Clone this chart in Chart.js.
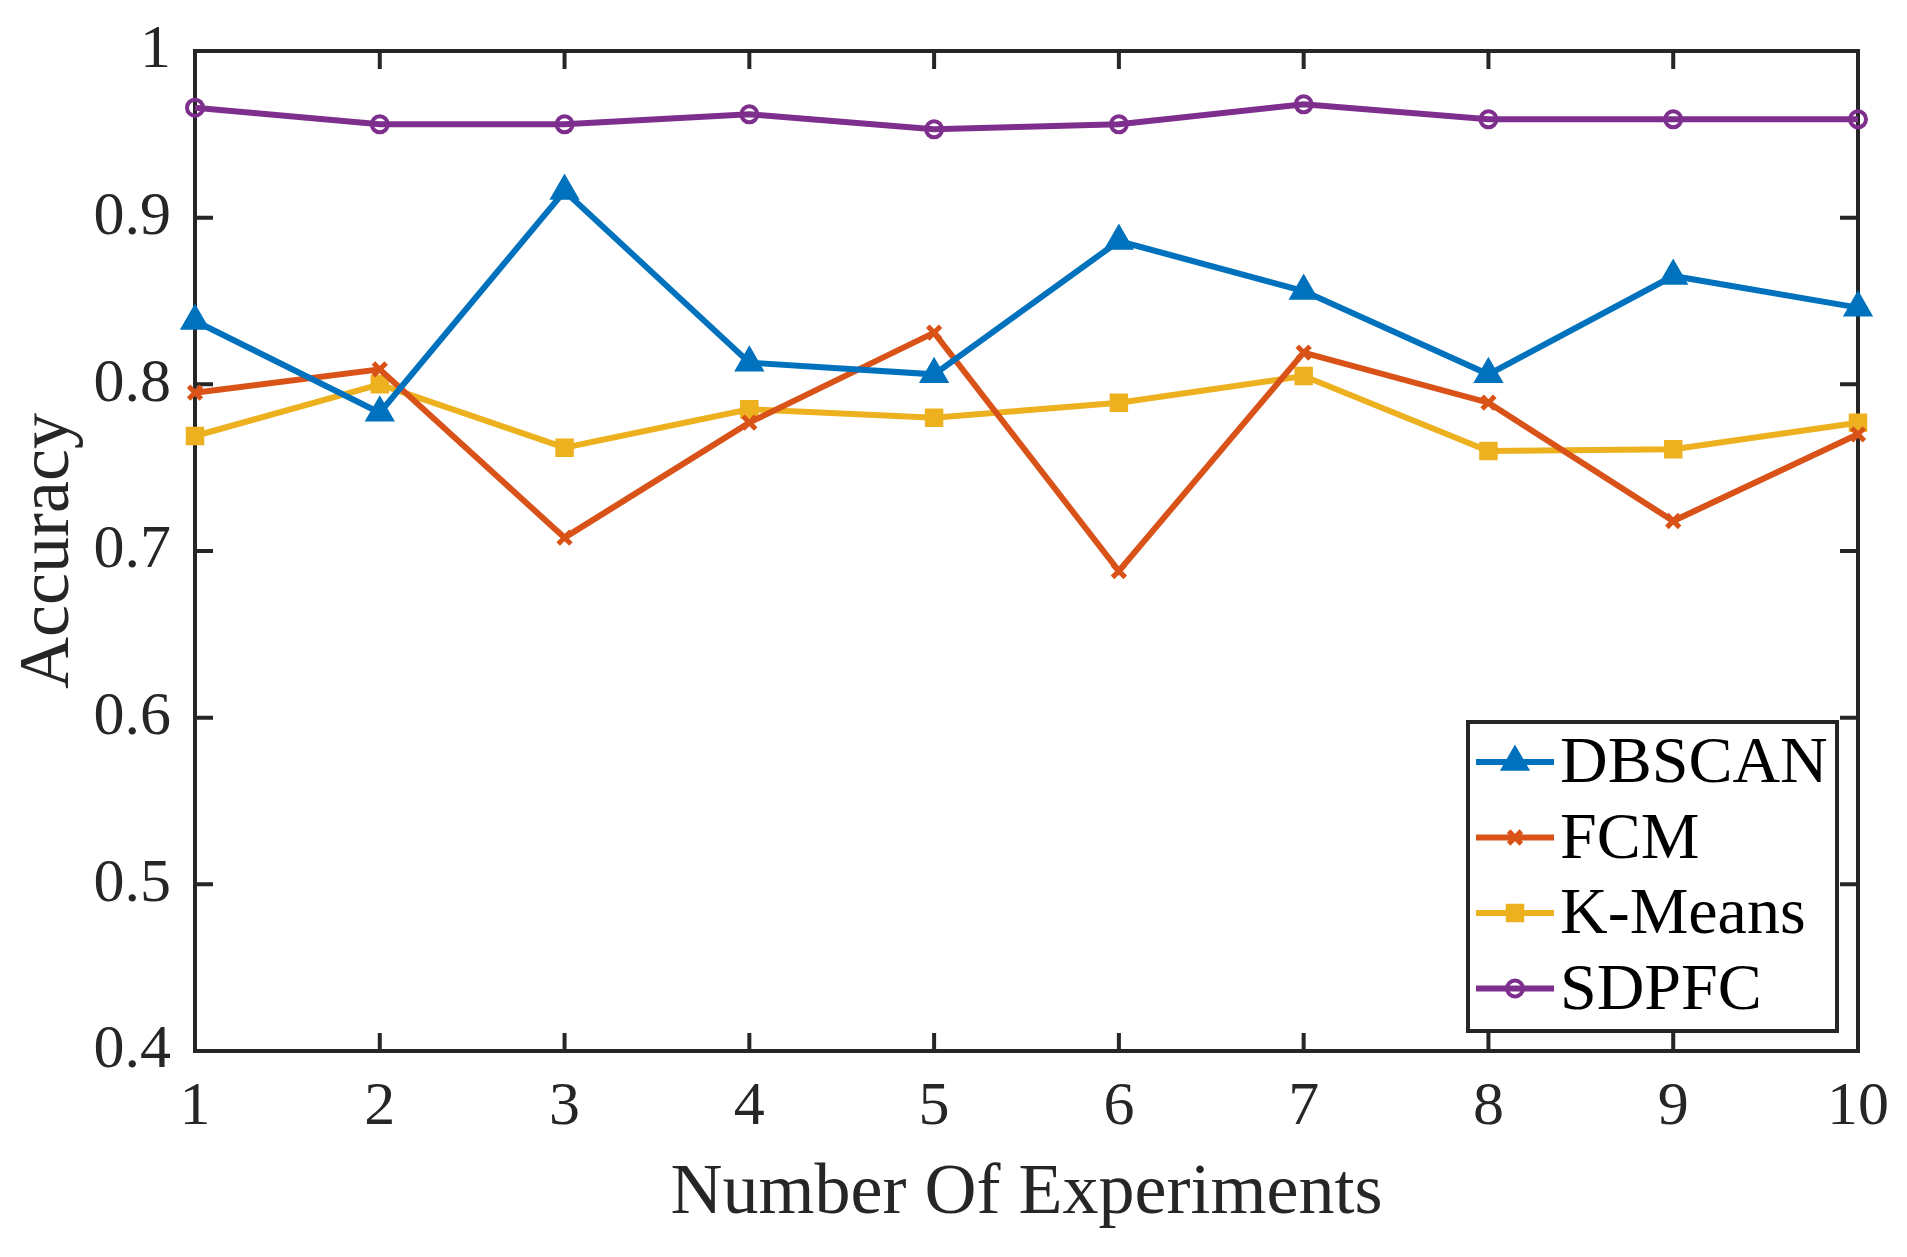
<!DOCTYPE html>
<html>
<head>
<meta charset="utf-8">
<script src="https://cdn.jsdelivr.net/npm/chart.js"></script>
<style>
  html, body { margin: 0; padding: 0; background: #ffffff; }
  #wrap { width: 1907px; height: 1257px; }
</style>
</head>
<body>
<div id="wrap"><canvas id="accuracy-chart"></canvas></div>
<script>
// values
const experiments = ["1", "2", "3", "4", "5", "6", "7", "8", "9", "10"];
const dbscan = [0.838, 0.783, 0.916, 0.813, 0.806, 0.886, 0.856, 0.806, 0.865, 0.846];
const fcm = [0.795, 0.809, 0.708, 0.777, 0.831, 0.688, 0.819, 0.789, 0.718, 0.770];
const kmeans = [0.769, 0.800, 0.762, 0.785, 0.780, 0.789, 0.805, 0.760, 0.761, 0.777];
const sdpfc = [0.966, 0.956, 0.956, 0.962, 0.953, 0.956, 0.968, 0.959, 0.959, 0.959];
const yTicks = [0.4, 0.5, 0.6, 0.7, 0.8, 0.9, 1];

const axisColor = "#262626";
const serif = "'Liberation Serif', 'DejaVu Serif', serif";

// draws the frame with inward ticks on all four sides (under the lines)
const boxAndTicks = {
    id: "boxAndTicks",
    beforeDatasetsDraw(chart) {
        const { ctx, chartArea: a, scales } = chart;
        const len = 18;
        ctx.save();
        ctx.strokeStyle = axisColor;
        ctx.lineWidth = 4;
        ctx.beginPath();
        experiments.forEach((lab, i) => {
            const px = scales.x.getPixelForValue(i);
            ctx.moveTo(px, a.bottom);
            ctx.lineTo(px, a.bottom - len);
            ctx.moveTo(px, a.top);
            ctx.lineTo(px, a.top + len);
        });
        yTicks.forEach((v) => {
            const py = scales.y.getPixelForValue(v);
            ctx.moveTo(a.left, py);
            ctx.lineTo(a.left + len, py);
            ctx.moveTo(a.right, py);
            ctx.lineTo(a.right - len, py);
        });
        ctx.stroke();
        ctx.lineJoin = "miter";
        ctx.strokeRect(a.left, a.top, a.right - a.left, a.bottom - a.top);
        ctx.restore();
    },
};

function drawMarker(ctx, ds, cx, cy) {
    const r = ds.pointRadius;
    ctx.save();
    ctx.fillStyle = ds.pointBackgroundColor;
    ctx.strokeStyle = ds.pointBorderColor;
    ctx.lineWidth = ds.pointBorderWidth;
    ctx.beginPath();
    if (ds.pointStyle === "triangle") {
        for (let k = 0; k < 3; k++) {
            const ang = -Math.PI / 2 + k * 2 * Math.PI / 3;
            const px = cx + Math.cos(ang) * r;
            const py = cy + Math.sin(ang) * r;
            if (k === 0) ctx.moveTo(px, py); else ctx.lineTo(px, py);
        }
        ctx.closePath();
        ctx.fill();
        ctx.stroke();
    } else if (ds.pointStyle === "rect") {
        const s = r * Math.SQRT1_2;
        ctx.rect(cx - s, cy - s, 2 * s, 2 * s);
        ctx.fill();
        ctx.stroke();
    } else if (ds.pointStyle === "crossRot") {
        const s = r * Math.SQRT1_2;
        ctx.moveTo(cx - s, cy - s);
        ctx.lineTo(cx + s, cy + s);
        ctx.moveTo(cx - s, cy + s);
        ctx.lineTo(cx + s, cy - s);
        ctx.stroke();
    } else {
        ctx.arc(cx, cy, r, 0, Math.PI * 2);
        ctx.stroke();
    }
    ctx.restore();
}

// MATLAB-like legend box in the lower right corner
const boxLegend = {
    id: "boxLegend",
    afterDraw(chart) {
        const { ctx, chartArea: a } = chart;
        const left = a.right - 390;
        const top = a.bottom - 329;
        const w = 369;
        const h = 309;
        ctx.save();
        ctx.fillStyle = "#ffffff";
        ctx.fillRect(left, top, w, h);
        ctx.strokeStyle = axisColor;
        ctx.lineWidth = 4;
        ctx.strokeRect(left, top, w, h);
        ctx.font = "66px " + serif;
        ctx.textBaseline = "middle";
        ctx.textAlign = "left";
        chart.data.datasets.forEach((ds, i) => {
            const cy = top + 40 + i * 75.5;
            ctx.strokeStyle = ds.borderColor;
            ctx.lineWidth = ds.borderWidth;
            ctx.beginPath();
            ctx.moveTo(left + 8, cy);
            ctx.lineTo(left + 86, cy);
            ctx.stroke();
            drawMarker(ctx, ds, left + 47, cy);
            ctx.fillStyle = "#000000";
            ctx.fillText(ds.label, left + 92, cy + 3);
        });
        ctx.restore();
    },
};

function series(label, values, color, style, radius, markerBorder, filled) {
    return {
        label: label,
        data: values,
        borderColor: color,
        backgroundColor: color,
        borderWidth: 6,
        pointStyle: style,
        pointRadius: radius,
        pointHoverRadius: radius,
        pointBorderWidth: markerBorder,
        pointBorderColor: color,
        pointBackgroundColor: filled ? color : "rgba(0,0,0,0)",
        tension: 0,
        clip: false,
    };
}

const ctx = document.getElementById("accuracy-chart");
const accuracyChart = new Chart(ctx, {
    type: "line",
    data: {
        labels: experiments,
        datasets: [
            series("DBSCAN", dbscan, "#0072BD", "triangle", 16, 1.5, true),
            series("FCM", fcm, "#D95319", "crossRot", 9, 5, false),
            series("K-Means", kmeans, "#EDB120", "rect", 12, 1.5, true),
            series("SDPFC", sdpfc, "#7E2F8E", "circle", 8, 4, false),
        ],
    },
    options: {
        responsive: true,
        maintainAspectRatio: false,
        animation: false,
        devicePixelRatio: 1,
        layout: {
            padding: { top: 51, right: 49, left: 0, bottom: 0 },
        },
        scales: {
            x: {
                type: "category",
                offset: false,
                grid: { display: false, drawTicks: false },
                border: { display: false },
                ticks: {
                    color: axisColor,
                    font: { family: serif, size: 62 },
                    padding: 20,
                    maxRotation: 0,
                    autoSkip: false,
                },
                title: {
                    display: true,
                    text: "Number Of Experiments",
                    color: axisColor,
                    font: { family: serif, size: 72 },
                    padding: { top: 0, bottom: 20 },
                },
                afterFit(scale) {
                    scale.height = 206;
                    scale.paddingLeft = 0;
                    scale.paddingRight = 0;
                },
            },
            y: {
                min: 0.4,
                max: 1,
                grid: { display: false, drawTicks: false },
                border: { display: false },
                afterBuildTicks(scale) {
                    scale.ticks = yTicks.map((v) => ({ value: v }));
                },
                ticks: {
                    color: axisColor,
                    font: { family: serif, size: 62 },
                    padding: 24,
                    callback: (v) => String(Number(Number(v).toFixed(1))),
                },
                title: {
                    display: true,
                    text: "Accuracy",
                    color: axisColor,
                    font: { family: serif, size: 72 },
                    padding: { top: 6, bottom: 0 },
                },
                afterFit(scale) {
                    scale.width = 195;
                    scale.paddingTop = 0;
                    scale.paddingBottom = 0;
                },
            },
        },
        plugins: {
            legend: { display: false },
            tooltip: { enabled: false },
        },
    },
    plugins: [boxAndTicks, boxLegend],
});
</script>
</body>
</html>
